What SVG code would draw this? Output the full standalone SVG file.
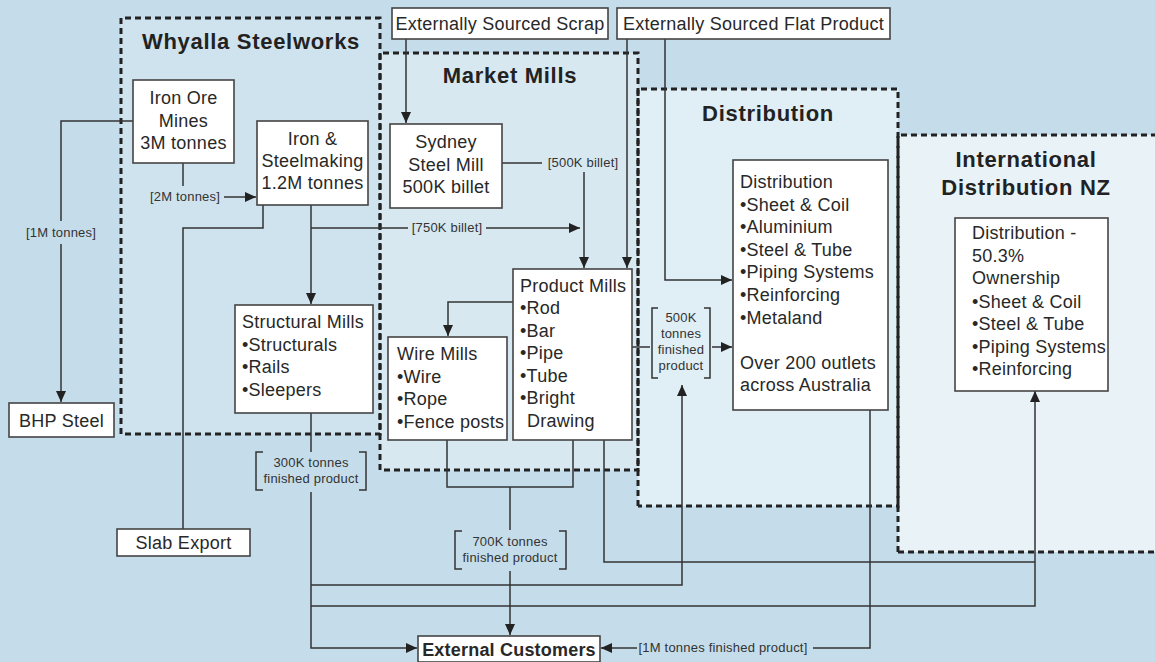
<svg xmlns="http://www.w3.org/2000/svg" width="1155" height="662" viewBox="0 0 1155 662">
<defs>
<marker id="arr" markerWidth="11" markerHeight="10" refX="11" refY="5" orient="auto" markerUnits="userSpaceOnUse">
<path d="M0,0 L11,5 L0,10 z" fill="#222"/>
</marker>
<style>
.t{font-family:"Liberation Sans",Arial,sans-serif;font-size:18px;fill:#282828;letter-spacing:0.25px}
.c{text-anchor:middle}
.h{font-family:"Liberation Sans",Arial,sans-serif;font-size:22px;font-weight:bold;fill:#222;letter-spacing:0.7px;text-anchor:middle}
.s{font-family:"Liberation Sans",Arial,sans-serif;font-size:13px;fill:#333;letter-spacing:0.2px;text-anchor:middle}
.box{fill:#fff;stroke:#444;stroke-width:1.6}
.reg{stroke:#222;stroke-width:3;stroke-dasharray:6 4;fill:none}
.ln{fill:none;stroke:#333;stroke-width:1.5}
.br{fill:none;stroke:#333;stroke-width:1.5}
</style>
</defs>
<rect x="0" y="0" width="1155" height="662" fill="#c5ddea"/>
<g id="regions">
<rect x="121" y="18" width="259" height="416" fill="#cfe3ee"/>
<rect x="380" y="53" width="258" height="417" fill="#d7e8f1"/>
<rect x="638" y="89" width="260" height="417" fill="#e0eef5"/>
<rect x="898" y="135" width="262" height="417" fill="#e8f2f7"/>
<path class="reg" d="M121,434 V18 H380 V434 H121"/>
<path class="reg" d="M380,470 V53 H638 V470 H380"/>
<path class="reg" d="M638,506 V89 H898 V506 H638"/>
<path class="reg" d="M898,552 V135 H1160 M898,552 H1160"/>
<text class="h" x="251" y="49">Whyalla Steelworks</text>
<text class="h" x="510" y="83">Market Mills</text>
<text class="h" x="768" y="121">Distribution</text>
<text class="h" x="1026" y="167">International</text>
<text class="h" x="1026" y="195">Distribution NZ</text>
</g>
<g id="connectors">
<path class="ln" d="M133,121 H61 V221"/>
<path class="ln" d="M61,244 V402" marker-end="url(#arr)"/>
<text class="s" x="61" y="237">[1M tonnes]</text>
<path class="ln" d="M183,163 V186"/>
<text class="s" x="185" y="201">[2M tonnes]</text>
<path class="ln" d="M224,197 H256" marker-end="url(#arr)"/>
<path class="ln" d="M263,205 V228 H183 V529"/>
<path class="ln" d="M311,205 V304" marker-end="url(#arr)"/>
<path class="ln" d="M311,228 H408"/>
<text class="s" x="447" y="232">[750K billet]</text>
<path class="ln" d="M486,228 H580" marker-end="url(#arr)"/>
<path class="ln" d="M502,163 H542"/>
<text class="s" x="583" y="167">[500K billet]</text>
<path class="ln" d="M584,172 V268" marker-end="url(#arr)"/>
<path class="ln" d="M406,39 V123" marker-end="url(#arr)"/>
<path class="ln" d="M627,39 V268" marker-end="url(#arr)"/>
<path class="ln" d="M665,39 V280 H732" marker-end="url(#arr)"/>
<path class="ln" d="M513,302 H448 V336" marker-end="url(#arr)"/>
<path class="ln" d="M632,347 H650"/>
<path class="br" d="M658,308 H652 V378 H658 M704,308 H710 V378 H704"/>
<text class="s" x="681" y="322">500K</text>
<text class="s" x="681" y="338">tonnes</text>
<text class="s" x="681" y="354">finished</text>
<text class="s" x="681" y="370">product</text>
<path class="ln" d="M712,347 H732" marker-end="url(#arr)"/>
<path class="ln" d="M311,413 V452"/>
<path class="br" d="M263,452 H256 V490 H263 M359,452 H366 V490 H359"/>
<text class="s" x="311" y="467">300K tonnes</text>
<text class="s" x="311" y="483">finished product</text>
<path class="ln" d="M311,492 V648 H417" marker-end="url(#arr)"/>
<path class="ln" d="M311,585 H682 V385" marker-end="url(#arr)"/>
<path class="ln" d="M311,606 H1035 V391" marker-end="url(#arr)"/>
<path class="ln" d="M604,440 V562 H1035"/>
<path class="ln" d="M447,440 V487 H573 V440"/>
<path class="ln" d="M510,487 V530"/>
<path class="br" d="M462,531 H455 V569 H462 M559,531 H566 V569 H559"/>
<text class="s" x="510" y="546">700K tonnes</text>
<text class="s" x="510" y="562">finished product</text>
<path class="ln" d="M510,571 V635" marker-end="url(#arr)"/>
<path class="ln" d="M870,410 V648 H813"/>
<text class="s" x="723" y="652">[1M tonnes finished product]</text>
<path class="ln" d="M637,648 H601" marker-end="url(#arr)"/>
</g>
<g id="ext-scrap">
<rect class="box" x="392" y="8" width="216" height="31"/>
<text class="t c" x="500" y="30">Externally Sourced Scrap</text>
</g>
<g id="ext-flat">
<rect class="box" x="617" y="8" width="273" height="31"/>
<text class="t c" x="753.5" y="30">Externally Sourced Flat Product</text>
</g>
<g id="iron-ore">
<rect class="box" x="133" y="80" width="101" height="83"/>
<text class="t c" x="183.5" y="104">Iron Ore</text>
<text class="t c" x="183.5" y="127">Mines</text>
<text class="t c" x="183.5" y="149">3M tonnes</text>
</g>
<g id="steelmaking">
<rect class="box" x="257" y="121" width="111" height="84"/>
<text class="t c" x="312.5" y="145">Iron &amp;</text>
<text class="t c" x="312.5" y="167">Steelmaking</text>
<text class="t c" x="312.5" y="189">1.2M tonnes</text>
</g>
<g id="sydney">
<rect class="box" x="390" y="124" width="112" height="84"/>
<text class="t c" x="446" y="148">Sydney</text>
<text class="t c" x="446" y="171">Steel Mill</text>
<text class="t c" x="446" y="193">500K billet</text>
</g>
<g id="structural">
<rect class="box" x="235" y="305" width="138" height="108"/>
<text class="t" x="242" y="328">Structural Mills</text>
<text class="t" x="242" y="351">•Structurals</text>
<text class="t" x="242" y="373">•Rails</text>
<text class="t" x="242" y="396">•Sleepers</text>
</g>
<g id="bhp">
<rect class="box" x="9" y="403" width="105" height="34"/>
<text class="t c" x="61.5" y="427">BHP Steel</text>
</g>
<g id="slab">
<rect class="box" x="117" y="529" width="133" height="27"/>
<text class="t c" x="183.5" y="549">Slab Export</text>
</g>
<g id="wire">
<rect class="box" x="388" y="337" width="119" height="103"/>
<text class="t" x="397" y="360">Wire Mills</text>
<text class="t" x="397" y="383">•Wire</text>
<text class="t" x="397" y="405">•Rope</text>
<text class="t" x="397" y="428">•Fence posts</text>
</g>
<g id="product">
<rect class="box" x="513" y="269" width="119" height="171"/>
<text class="t" x="520" y="292">Product Mills</text>
<text class="t" x="520" y="314">•Rod</text>
<text class="t" x="520" y="337">•Bar</text>
<text class="t" x="520" y="359">•Pipe</text>
<text class="t" x="520" y="382">•Tube</text>
<text class="t" x="520" y="404">•Bright</text>
<text class="t" x="527" y="427">Drawing</text>
</g>
<g id="distribution">
<rect class="box" x="733" y="160" width="155" height="250"/>
<text class="t" x="740" y="188">Distribution</text>
<text class="t" x="740" y="211">•Sheet &amp; Coil</text>
<text class="t" x="740" y="233">•Aluminium</text>
<text class="t" x="740" y="256">•Steel &amp; Tube</text>
<text class="t" x="740" y="278">•Piping Systems</text>
<text class="t" x="740" y="301">•Reinforcing</text>
<text class="t" x="740" y="324">•Metaland</text>
<text class="t" x="740" y="369">Over 200 outlets</text>
<text class="t" x="740" y="391">across Australia</text>
</g>
<g id="nz">
<rect class="box" x="955" y="218" width="153" height="173"/>
<text class="t" x="972" y="239">Distribution -</text>
<text class="t" x="972" y="262">50.3%</text>
<text class="t" x="972" y="284">Ownership</text>
<text class="t" x="972" y="308">•Sheet &amp; Coil</text>
<text class="t" x="972" y="330">•Steel &amp; Tube</text>
<text class="t" x="972" y="353">•Piping Systems</text>
<text class="t" x="972" y="375">•Reinforcing</text>
</g>
<g id="customers">
<rect class="box" x="418" y="636" width="182" height="26"/>
<text class="t c" x="509" y="656" style="font-weight:bold;letter-spacing:0.2px">External Customers</text>
</g>
</svg>
